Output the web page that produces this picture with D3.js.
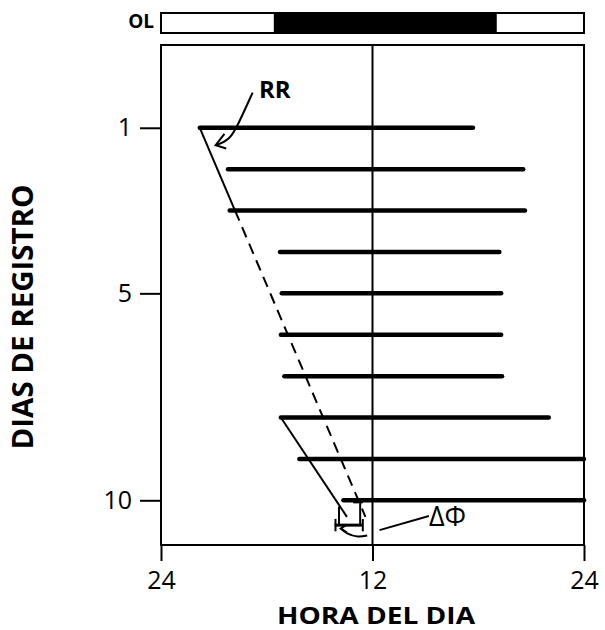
<!DOCTYPE html>
<html>
<head>
<meta charset="utf-8">
<script src="https://cdn.jsdelivr.net/npm/d3@7"></script>
<style>
  body { margin: 0; background: #fff; }
  text { font-family: "Open Sans", "DejaVu Sans", sans-serif; fill: #000; }
</style>
</head>
<body>
<div id="chart"></div>
<script>
// activity per day (hours from midnight, 0 = "24" on the left)
const days = [1, 2, 3, 4, 5, 6, 7, 8, 9, 10];
const onsets = [2.2, 3.8, 3.9, 6.75, 6.85, 6.8, 7.0, 6.8, 7.85, 10.35];
const offsets = [17.7, 20.55, 20.65, 19.2, 19.3, 19.3, 19.35, 22.0, 24, 24];

const hourTicks = [0, 12, 24];
const hourLabels = ["24", "12", "24"];
const dayTicks = [1, 5, 10];

// light / dark bar (OL)
const darkStart = 6.4, darkEnd = 19.05;

// free running line (RR) and re-entrained onsets
const rrLine = [[2.2, 1], [11.6, 10.4]];
const rrSolidTo = 3;
const shiftLine = [[6.8, 8], [10.55, 10.4]];
const phaseBracket = [10.1, 11.3];

const width = 605, height = 630;
const svg = d3.select("#chart").append("svg")
  .attr("width", width).attr("height", height);

const x = d3.scaleLinear().domain([0, 24]).range([161, 584]);
const y = d3.scaleLinear().domain([-1, 11.08]).range([45, 545]);

// OL bar
const ol = svg.append("g");
ol.append("rect").attr("x", x(0)).attr("y", 13).attr("width", x(24) - x(0)).attr("height", 20)
  .attr("fill", "#fff").attr("stroke", "#000").attr("stroke-width", 2);
ol.append("rect").attr("x", x(darkStart)).attr("y", 13).attr("width", x(darkEnd) - x(darkStart)).attr("height", 20)
  .attr("fill", "#000");
ol.append("text").attr("x", 154).attr("y", 28).attr("text-anchor", "end")
  .attr("font-size", 19).attr("font-weight", "bold").text("OL");

// frame
svg.append("rect").attr("x", x(0)).attr("y", y(-1)).attr("width", x(24) - x(0)).attr("height", y(11.08) - y(-1))
  .attr("fill", "none").attr("stroke", "#000").attr("stroke-width", 2);
svg.append("line").attr("x1", x(12)).attr("x2", x(12)).attr("y1", y(-1)).attr("y2", y(11.08))
  .attr("stroke", "#000").attr("stroke-width", 2);

// axes
const xAxis = svg.append("g").attr("transform", "translate(0," + y(11.08) + ")")
  .call(d3.axisBottom(x).tickValues(hourTicks).tickFormat((d, i) => hourLabels[i]).tickSize(16).tickPadding(10));
const yAxis = svg.append("g").attr("transform", "translate(" + x(0) + ",0)")
  .call(d3.axisLeft(y).tickValues(dayTicks).tickSize(21).tickPadding(8));
[xAxis, yAxis].forEach(a => {
  a.select(".domain").remove();
  a.selectAll("line").attr("stroke", "#000").attr("stroke-width", 2);
  a.selectAll("text").attr("font-size", 25).attr("font-family", "'Open Sans', sans-serif").attr("fill", "#000");
});

// activity bars
svg.append("g").selectAll("line")
  .data(days)
  .join("line")
  .attr("x1", (d, i) => x(onsets[i]))
  .attr("x2", (d, i) => x(offsets[i]))
  .attr("y1", d => y(d))
  .attr("y2", d => y(d))
  .attr("stroke", "#000")
  .attr("stroke-width", 4.5)
  .attr("stroke-linecap", "round");

// RR line: solid then dashed extrapolation
const rrAt = d => rrLine[0][0] + (rrLine[1][0] - rrLine[0][0]) * (d - rrLine[0][1]) / (rrLine[1][1] - rrLine[0][1]);
svg.append("line").attr("x1", x(rrLine[0][0])).attr("y1", y(rrLine[0][1]))
  .attr("x2", x(rrAt(rrSolidTo))).attr("y2", y(rrSolidTo))
  .attr("stroke", "#000").attr("stroke-width", 2);
svg.append("line").attr("x1", x(rrAt(rrSolidTo))).attr("y1", y(rrSolidTo))
  .attr("x2", x(rrLine[1][0])).attr("y2", y(rrLine[1][1]))
  .attr("stroke", "#000").attr("stroke-width", 2).attr("stroke-dasharray", "11,7");
svg.append("line").attr("x1", x(shiftLine[0][0])).attr("y1", y(shiftLine[0][1]))
  .attr("x2", x(shiftLine[1][0])).attr("y2", y(shiftLine[1][1]))
  .attr("stroke", "#000").attr("stroke-width", 2);

// phase shift bracket
const br = svg.append("g").attr("stroke", "#000").attr("stroke-width", 2).attr("fill", "none");
br.append("line").attr("x1", x(phaseBracket[0])).attr("x2", x(phaseBracket[0])).attr("y1", y(10.15)).attr("y2", y(10.62));
br.append("line").attr("x1", x(phaseBracket[1])).attr("x2", x(phaseBracket[1])).attr("y1", y(10.05)).attr("y2", y(10.62));
br.append("line").attr("x1", x(phaseBracket[1] - 0.4)).attr("x2", x(phaseBracket[1] + 0.15)).attr("y1", y(10.05)).attr("y2", y(10.05));
br.append("line").attr("x1", x(phaseBracket[0] - 0.25)).attr("x2", x(phaseBracket[1] + 0.1)).attr("y1", y(10.6)).attr("y2", y(10.6))
  .attr("stroke-width", 3);
br.append("path").attr("d", d3.line()([[x(9.9), y(10.45)], [x(9.9), y(10.75)]]));
br.append("path").attr("d", d3.line()([[x(11.45), y(10.45)], [x(11.45), y(10.75)]]));

// leader from delta phi label
br.append("path").attr("d", d3.line()([[x(15.2), y(10.38)], [x(12.4), y(10.72)]]));
br.append("path").attr("d", d3.line().curve(d3.curveBasis)([[x(11.7), y(10.85)], [x(11.2), y(10.9)], [x(10.5), y(10.8)], [x(10.2), y(10.68)]]));
br.append("path").attr("d", d3.line()([[x(10.5), y(10.6)], [x(10.2), y(10.68)], [x(10.55), y(10.78)]]));
svg.append("text").attr("x", x(15.2)).attr("y", y(10.62)).attr("font-size", 27)
  .attr("font-family", "'DejaVu Sans', sans-serif").text("ΔΦ");

// RR annotation
svg.append("text").attr("x", 259).attr("y", 98).attr("font-size", 24).attr("font-weight", "bold").text("RR");
br.append("path").attr("d", d3.line().curve(d3.curveBasis)([[x(5.2), y(0.15)], [x(4.4), y(0.9)], [x(3.9), y(1.3)], [x(3.1), y(1.42)]]));
br.append("path").attr("d", d3.line()([[x(3.6), y(1.15)], [x(3.1), y(1.42)], [x(3.7), y(1.5)]]));

// axis titles
svg.append("text").attr("x", 376).attr("y", 624).attr("text-anchor", "middle")
  .attr("font-size", 23).attr("font-weight", "bold")
  .attr("textLength", 198).attr("lengthAdjust", "spacingAndGlyphs").text("HORA DEL DIA");
svg.append("text").attr("transform", "translate(33,317) rotate(-90)").attr("text-anchor", "middle")
  .attr("font-size", 28).attr("font-weight", "bold")
  .attr("textLength", 265).attr("lengthAdjust", "spacingAndGlyphs").text("DIAS DE REGISTRO");
</script>
</body>
</html>
